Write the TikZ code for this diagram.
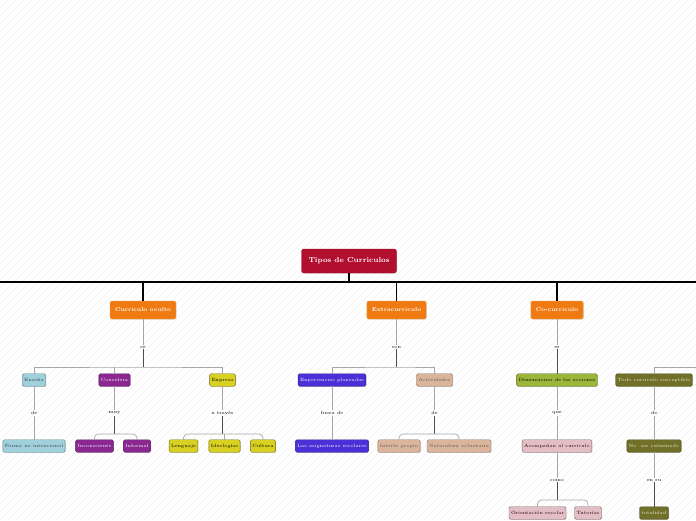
\documentclass[tikz,border=0pt]{standalone}
\usepackage{tikz}
\usetikzlibrary{shadows}
\definecolor{crimson}{HTML}{B20E2D}
\definecolor{tangerine}{HTML}{EF7A12}
\definecolor{skyb}{HTML}{9FD0DC}
\definecolor{grape}{HTML}{8A2790}
\definecolor{mustard}{HTML}{D9D122}
\definecolor{violet}{HTML}{4A30D6}
\definecolor{tan}{HTML}{DAB59C}
\definecolor{lime}{HTML}{9CB63A}
\definecolor{rose}{HTML}{E4BEC6}
\definecolor{olive}{HTML}{707028}
\tikzset{
    box/.style={draw, rounded corners=1.5pt, inner xsep=2pt, inner ysep=0pt,
        minimum height=12.5pt, font=\fontsize{4.6}{5}\selectfont,
        drop shadow={shadow xshift=0.6pt, shadow yshift=-0.6pt, opacity=0.25}},
    head/.style={box, fill=crimson, draw=crimson!80!black, text=white,
        minimum height=24pt, inner xsep=7pt, rounded corners=2.5pt,
        font=\fontsize{7.2}{8}\selectfont\bfseries},
    branch/.style={box, fill=tangerine, draw=tangerine!70!white, text=white,
        minimum height=18pt, inner xsep=5pt, rounded corners=2pt,
        font=\fontsize{5.6}{6}\selectfont\bfseries},
    bsky/.style={box, fill=skyb, draw=skyb!60!black, text=black!75},
    bgrape/.style={box, fill=grape, draw=grape!60!black, text=white},
    bmust/.style={box, fill=mustard, draw=mustard!50!black, text=black},
    bviol/.style={box, fill=violet, draw=violet!60!black, text=white},
    btan/.style={box, fill=tan, draw=tan!60!black, text=black!65},
    blime/.style={box, fill=lime, draw=lime!50!black, text=black},
    brose/.style={box, fill=rose, draw=rose!50!black, text=black!70!red!60!black},
    boliv/.style={box, fill=olive, draw=olive!60!black, text=olive!15!white},
    lbl/.style={inner sep=1pt, font=\fontsize{4.6}{5}\selectfont},
    mainln/.style={line width=1.2pt, black},
    softln/.style={line width=0.7pt, black!35},
    darkln/.style={line width=0.9pt, black!70}
}
\begin{document}
\begin{tikzpicture}[x=1pt, y=-1pt]
        \useasboundingbox (0,0) rectangle (696,520);
        \begin{scope}
            \clip (0,0) rectangle (696,520);
            \foreach \i in {-520,-512,...,696}
                \draw[black!6, line width=0.6pt] (\i,520) -- (\i+520,0);
        \end{scope}
        % root
        \node[head] (tipos) at (349,261) {Tipos de Curriculos};
        \coordinate (rootL) at (0,282);
        \coordinate (rootR) at (696,282);
        \draw[mainln] (rootL) -- (rootR);
        \draw[mainln] (tipos) -- (tipos |- rootL);
        % first level
        \node[branch] (oculto) at (143,310) {Curriculo oculto};
        \node[branch] (extra) at (396.5,310) {Extracurriculo};
        \node[branch] (cocur) at (557,310) {Co-curriculo};
        \foreach \n in {oculto,extra,cocur}
            \draw[mainln] (\n |- rootL) -- (\n);
        \node[lbl] (se) at (143,347) {se};
        \node[lbl] (son) at (396.5,347) {son};
        \node[lbl] (es) at (557,347) {es};
        \draw[softln] (oculto) -- (se);
        \draw[softln] (extra) -- (son);
        \draw[softln] (cocur) -- (es);
        \coordinate (jse) at (143,367);
        \coordinate (json) at (396.5,367);
        \coordinate (jright) at (696,367);
        \draw[darkln] (se) -- (jse);
        \draw[darkln] (son) -- (json);
        % second level
        \node[bsky] (ensena) at (34,380) {Enseña};
        \node[bgrape] (considera) at (114.5,380) {Considera};
        \node[bmust] (expresa) at (222.5,380) {Expresa};
        \node[bviol] (experiencias) at (332,380) {Experiencias planeadas};
        \node[btan] (actividades) at (434.5,380) {Actividades};
        \node[blime] (dimensiones) at (557,380) {Dimensiones de las acciones};
        \node[boliv] (todo) at (654,380) {Todo curriculo susceptible};
        \draw[softln] (ensena) |- (jse) -| (expresa);
        \draw[softln] (considera) -- (considera |- jse);
        \draw[softln] (experiencias) |- (json) -| (actividades);
        \draw[darkln] (es) -- (dimensiones);
        \draw[softln] (todo) |- (jright);
        \node[lbl] (de1) at (34,413) {de};
        \node[lbl] (muy) at (114.5,413) {muy};
        \node[lbl] (atraves) at (222.5,413) {a través};
        \node[lbl] (fuera) at (332,413) {fuera de};
        \node[lbl] (de2) at (434.5,413) {de};
        \node[lbl] (que) at (557,413) {que};
        \node[lbl] (de3) at (654,413) {de};
        \foreach \a/\b in {ensena/de1,considera/muy,expresa/atraves,experiencias/fuera,
                actividades/de2,dimensiones/que,todo/de3}
            \draw[softln] (\a) -- (\b);
        % third level
        \node[bsky, minimum width=60pt] (forma) at (34,446) {Forma no intencional};
        \node[bgrape] (incons) at (94.5,446) {Inconsciente};
        \node[bgrape] (informal) at (137,446) {Informal};
        \node[bmust] (lenguaje) at (183.5,446) {Lenguaje};
        \node[bmust] (ideologias) at (224.5,446) {Ideologías};
        \node[bmust] (cultura) at (263,446) {Cultura};
        \node[bviol] (asignaturas) at (332,446) {Las asignaturas escolares};
        \node[btan] (interes) at (399,446) {Interés propio};
        \node[btan] (naturaleza) at (459,446) {Naturaleza voluntaria};
        \node[brose] (acompanan) at (557,446) {Acompañan al curriculo};
        \node[boliv] (culminado) at (654,446) {No\ \ ser culminado};
        \coordinate (jmuy) at (114.5,434);
        \coordinate (jatr) at (222.5,434);
        \coordinate (jde) at (434.5,434);
        \draw[softln] (de1) -- (forma);
        \draw[darkln] (muy) -- (jmuy);
        \draw[darkln] (atraves) -- (jatr);
        \draw[darkln] (de2) -- (jde);
        \draw[softln] (fuera) -- (asignaturas);
        \draw[softln] (que) -- (acompanan);
        \draw[softln] (de3) -- (culminado);
        \draw[softln, rounded corners=4pt] (incons) |- (jmuy) -| (informal);
        \draw[softln, rounded corners=4pt] (lenguaje) |- (jatr) -| (cultura);
        \draw[softln] (ideologias) -- (ideologias |- jatr);
        \draw[softln, rounded corners=4pt] (interes) |- (jde) -| (naturaleza);
        \node[lbl] (como) at (557,480) {como};
        \node[lbl] (ensu) at (654,480) {en su};
        \draw[softln] (acompanan) -- (como);
        \draw[softln] (culminado) -- (ensu);
        % fourth level
        \node[brose] (orientacion) at (537.5,513) {Orientación escolar};
        \node[brose] (tutorias) at (588,513) {Tutorías};
        \node[boliv] (totalidad) at (654,513) {totalidad};
        \coordinate (jcomo) at (557,500);
        \draw[darkln] (como) -- (jcomo);
        \draw[softln, rounded corners=4pt] (orientacion) |- (jcomo) -| (tutorias);
        \draw[darkln] (ensu) -- (totalidad);
    \end{tikzpicture}
\end{document}
